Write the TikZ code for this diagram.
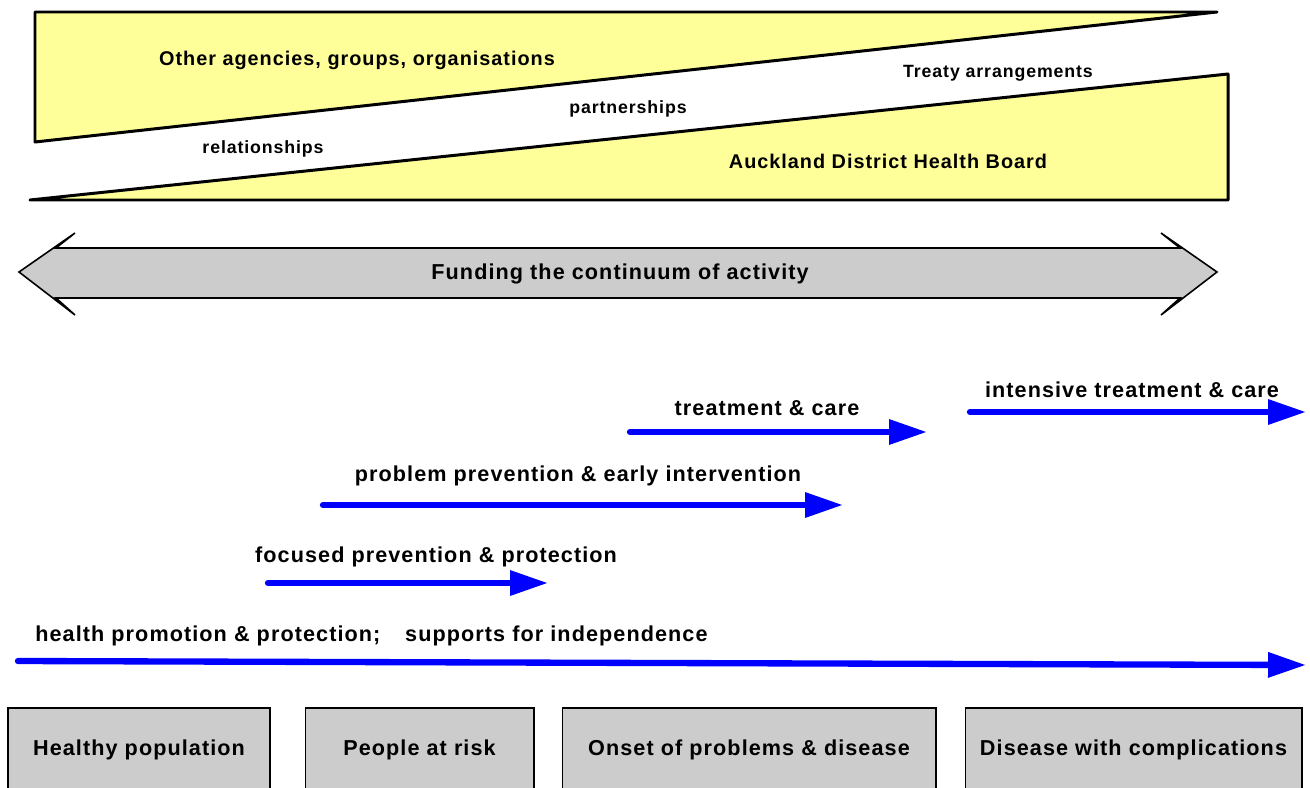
\documentclass[tikz,border=0pt]{standalone}
\usepackage{fontspec}
\setmainfont{Liberation Sans}[LetterSpace=5]
\usetikzlibrary{arrows.meta}
\definecolor{paleyellow}{HTML}{FFFF99}
\definecolor{boxgrey}{HTML}{CCCCCC}
\tikzset{
	biglabel/.style={font=\fontsize{12.3}{14}\selectfont\bfseries},
	toplabel/.style={font=\fontsize{11.3}{13}\selectfont\bfseries},
	smalllabel/.style={font=\fontsize{10.1}{12}\selectfont\bfseries},
	flow/.style={line width=3.6pt, color=blue, line cap=round, -{Triangle[length=0.76cm,width=0.48cm]}},
	stage/.style={draw, line width=0.6pt, fill=boxgrey, minimum height=1.68cm, inner sep=0pt, biglabel},
}

\begin{document}
\begin{tikzpicture}[x=0.02cm, y=-0.02cm]
			%%%%% START %%%%%
			\useasboundingbox (0, 0) rectangle (1310, 787);
			\clip (0, 0) rectangle (1310, 787);
			
			% sharing triangles
			\draw[line width=1.7pt, line join=round, fill=paleyellow] (35, 12) -- (1217, 12) -- (35, 142) -- cycle;
			\draw[line width=1.7pt, line join=round, fill=paleyellow] (30, 200) -- (1228, 74) -- (1228, 200) -- cycle;
			
			\node[toplabel] (others) at (357, 60) {Other agencies, groups, organisations};
			\node[smalllabel] (relations) at (263, 149) {relationships};
			\node[smalllabel] (partners) at (628, 109) {partnerships};
			\node[smalllabel] (treaty) at (998, 73) {Treaty arrangements};
			\node[toplabel] (adhb) at (888, 161) {Auckland District Health Board};
			
			% funding band
			\draw[line width=0.9pt, fill=boxgrey, miter limit=20]
				(19, 272) -- (75, 233) -- (56, 248) -- (1180, 248) -- (1161, 233) -- (1217, 272)
				-- (1161, 315) -- (1180, 298) -- (56, 298) -- (75, 315) -- cycle;
			\node[biglabel] (funding) at (620, 274) {Funding the continuum of activity};
			
			% activities
			\coordinate (care0) at (630, 432);
			\coordinate (care1) at (927, 432);
			\draw[flow] (care0) -- (care1);
			\node[biglabel] (care) at (767, 408) {treatment \& care};
			
			\coordinate (icare0) at (970, 412);
			\coordinate (icare1) at (1306, 412);
			\draw[flow] (icare0) -- (icare1);
			\node[biglabel] (icare) at (1132, 390) {intensive treatment \& care};
			
			\coordinate (early0) at (323, 505);
			\coordinate (early1) at (843, 505);
			\draw[flow] (early0) -- (early1);
			\node[biglabel] (early) at (578, 476) {problem prevention \& early intervention};
			
			\coordinate (focus0) at (268, 583);
			\coordinate (focus1) at (548, 583);
			\draw[flow] (focus0) -- (focus1);
			\node[biglabel] (focus) at (436, 557) {focused prevention \& protection};
			
			\coordinate (promo0) at (18, 661);
			\coordinate (promo1) at (1306, 665);
			\draw[flow] (promo0) -- (promo1);
			\node[biglabel, anchor=west, inner sep=0pt] (promo) at (35, 636) {health promotion \& protection;\hspace{1.15em}supports for independence};
			
			% population groups
			\node[stage, minimum width=5.24cm] (healthy) at (139, 750) {Healthy population};
			\node[stage, minimum width=4.58cm] (risk) at (419.5, 750) {People at risk};
			\node[stage, minimum width=7.48cm] (onset) at (749, 750) {Onset of problems \& disease};
			\node[stage, minimum width=6.74cm] (complex) at (1133.5, 750) {Disease with complications};
			
			%%%%% END %%%%%
		\end{tikzpicture}
\end{document}
